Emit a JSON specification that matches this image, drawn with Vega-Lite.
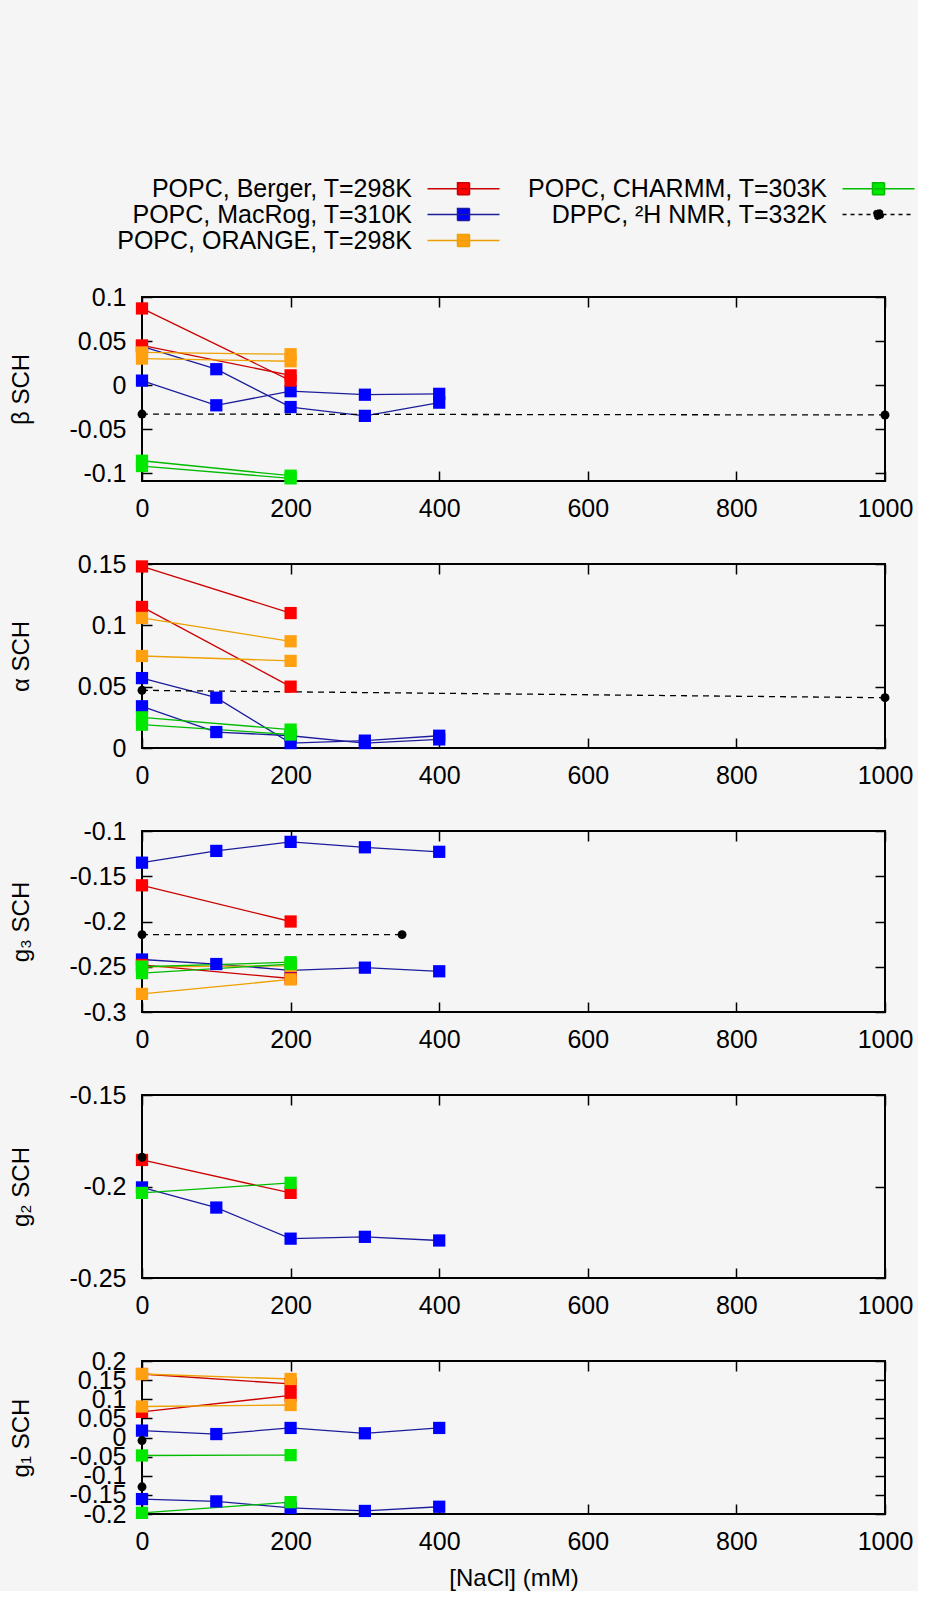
{
  "$schema": "https://vega.github.io/schema/vega-lite/v6.json",
  "background": "#f5f5f5",
  "padding": {"left": 8, "top": 176, "right": 0, "bottom": 0},
  "spacing": 29,
  "datasets": {
    "d": [
      {"p":"b","s":"POPC, MacRog, T=310K","r":1,"x":0,"y":0.044},
      {"p":"b","s":"POPC, MacRog, T=310K","r":1,"x":100,"y":0.018},
      {"p":"b","s":"POPC, MacRog, T=310K","r":1,"x":200,"y":-0.025},
      {"p":"b","s":"POPC, MacRog, T=310K","r":1,"x":300,"y":-0.035},
      {"p":"b","s":"POPC, MacRog, T=310K","r":1,"x":400,"y":-0.02},
      {"p":"b","s":"POPC, MacRog, T=310K","r":2,"x":0,"y":0.005},
      {"p":"b","s":"POPC, MacRog, T=310K","r":2,"x":100,"y":-0.023},
      {"p":"b","s":"POPC, MacRog, T=310K","r":2,"x":200,"y":-0.007},
      {"p":"b","s":"POPC, MacRog, T=310K","r":2,"x":300,"y":-0.011},
      {"p":"b","s":"POPC, MacRog, T=310K","r":2,"x":400,"y":-0.01},
      {"p":"b","s":"POPC, Berger, T=298K","r":1,"x":0,"y":0.087},
      {"p":"b","s":"POPC, Berger, T=298K","r":1,"x":200,"y":0.005},
      {"p":"b","s":"POPC, Berger, T=298K","r":2,"x":0,"y":0.045},
      {"p":"b","s":"POPC, Berger, T=298K","r":2,"x":200,"y":0.011},
      {"p":"b","s":"POPC, ORANGE, T=298K","r":1,"x":0,"y":0.037},
      {"p":"b","s":"POPC, ORANGE, T=298K","r":1,"x":200,"y":0.035},
      {"p":"b","s":"POPC, ORANGE, T=298K","r":2,"x":0,"y":0.030},
      {"p":"b","s":"POPC, ORANGE, T=298K","r":2,"x":200,"y":0.027},
      {"p":"b","s":"POPC, CHARMM, T=303K","r":1,"x":0,"y":-0.086},
      {"p":"b","s":"POPC, CHARMM, T=303K","r":1,"x":200,"y":-0.103},
      {"p":"b","s":"POPC, CHARMM, T=303K","r":2,"x":0,"y":-0.092},
      {"p":"b","s":"POPC, CHARMM, T=303K","r":2,"x":200,"y":-0.106},
      {"p":"b","s":"DPPC, ²H NMR, T=332K","r":1,"x":0,"y":-0.033},
      {"p":"b","s":"DPPC, ²H NMR, T=332K","r":1,"x":1000,"y":-0.034},

      {"p":"a","s":"POPC, MacRog, T=310K","r":1,"x":0,"y":0.057},
      {"p":"a","s":"POPC, MacRog, T=310K","r":1,"x":100,"y":0.041},
      {"p":"a","s":"POPC, MacRog, T=310K","r":1,"x":200,"y":0.004},
      {"p":"a","s":"POPC, MacRog, T=310K","r":1,"x":300,"y":0.006},
      {"p":"a","s":"POPC, MacRog, T=310K","r":1,"x":400,"y":0.010},
      {"p":"a","s":"POPC, MacRog, T=310K","r":2,"x":0,"y":0.034},
      {"p":"a","s":"POPC, MacRog, T=310K","r":2,"x":100,"y":0.013},
      {"p":"a","s":"POPC, MacRog, T=310K","r":2,"x":200,"y":0.010},
      {"p":"a","s":"POPC, MacRog, T=310K","r":2,"x":300,"y":0.004},
      {"p":"a","s":"POPC, MacRog, T=310K","r":2,"x":400,"y":0.007},
      {"p":"a","s":"POPC, Berger, T=298K","r":1,"x":0,"y":0.148},
      {"p":"a","s":"POPC, Berger, T=298K","r":1,"x":200,"y":0.110},
      {"p":"a","s":"POPC, Berger, T=298K","r":2,"x":0,"y":0.115},
      {"p":"a","s":"POPC, Berger, T=298K","r":2,"x":200,"y":0.050},
      {"p":"a","s":"POPC, ORANGE, T=298K","r":1,"x":0,"y":0.106},
      {"p":"a","s":"POPC, ORANGE, T=298K","r":1,"x":200,"y":0.087},
      {"p":"a","s":"POPC, ORANGE, T=298K","r":2,"x":0,"y":0.075},
      {"p":"a","s":"POPC, ORANGE, T=298K","r":2,"x":200,"y":0.071},
      {"p":"a","s":"POPC, CHARMM, T=303K","r":1,"x":0,"y":0.025},
      {"p":"a","s":"POPC, CHARMM, T=303K","r":1,"x":200,"y":0.015},
      {"p":"a","s":"POPC, CHARMM, T=303K","r":2,"x":0,"y":0.019},
      {"p":"a","s":"POPC, CHARMM, T=303K","r":2,"x":200,"y":0.011},
      {"p":"a","s":"DPPC, ²H NMR, T=332K","r":1,"x":0,"y":0.047},
      {"p":"a","s":"DPPC, ²H NMR, T=332K","r":1,"x":1000,"y":0.041},

      {"p":"g3","s":"POPC, MacRog, T=310K","r":1,"x":0,"y":-0.135},
      {"p":"g3","s":"POPC, MacRog, T=310K","r":1,"x":100,"y":-0.122},
      {"p":"g3","s":"POPC, MacRog, T=310K","r":1,"x":200,"y":-0.112},
      {"p":"g3","s":"POPC, MacRog, T=310K","r":1,"x":300,"y":-0.118},
      {"p":"g3","s":"POPC, MacRog, T=310K","r":1,"x":400,"y":-0.123},
      {"p":"g3","s":"POPC, MacRog, T=310K","r":2,"x":0,"y":-0.242},
      {"p":"g3","s":"POPC, MacRog, T=310K","r":2,"x":100,"y":-0.247},
      {"p":"g3","s":"POPC, MacRog, T=310K","r":2,"x":200,"y":-0.254},
      {"p":"g3","s":"POPC, MacRog, T=310K","r":2,"x":300,"y":-0.251},
      {"p":"g3","s":"POPC, MacRog, T=310K","r":2,"x":400,"y":-0.255},
      {"p":"g3","s":"POPC, Berger, T=298K","r":1,"x":0,"y":-0.160},
      {"p":"g3","s":"POPC, Berger, T=298K","r":1,"x":200,"y":-0.200},
      {"p":"g3","s":"POPC, Berger, T=298K","r":2,"x":0,"y":-0.248},
      {"p":"g3","s":"POPC, Berger, T=298K","r":2,"x":200,"y":-0.263},
      {"p":"g3","s":"POPC, ORANGE, T=298K","r":1,"x":0,"y":-0.250},
      {"p":"g3","s":"POPC, ORANGE, T=298K","r":1,"x":200,"y":-0.249},
      {"p":"g3","s":"POPC, ORANGE, T=298K","r":2,"x":0,"y":-0.280},
      {"p":"g3","s":"POPC, ORANGE, T=298K","r":2,"x":200,"y":-0.264},
      {"p":"g3","s":"POPC, CHARMM, T=303K","r":1,"x":0,"y":-0.250},
      {"p":"g3","s":"POPC, CHARMM, T=303K","r":1,"x":200,"y":-0.245},
      {"p":"g3","s":"POPC, CHARMM, T=303K","r":2,"x":0,"y":-0.257},
      {"p":"g3","s":"POPC, CHARMM, T=303K","r":2,"x":200,"y":-0.247},
      {"p":"g3","s":"DPPC, ²H NMR, T=332K","r":1,"x":0,"y":-0.2145},
      {"p":"g3","s":"DPPC, ²H NMR, T=332K","r":1,"x":350,"y":-0.2145},

      {"p":"g2","s":"POPC, MacRog, T=310K","r":1,"x":0,"y":-0.2005},
      {"p":"g2","s":"POPC, MacRog, T=310K","r":1,"x":100,"y":-0.2115},
      {"p":"g2","s":"POPC, MacRog, T=310K","r":1,"x":200,"y":-0.2285},
      {"p":"g2","s":"POPC, MacRog, T=310K","r":1,"x":300,"y":-0.2275},
      {"p":"g2","s":"POPC, MacRog, T=310K","r":1,"x":400,"y":-0.2295},
      {"p":"g2","s":"POPC, Berger, T=298K","r":1,"x":0,"y":-0.1855},
      {"p":"g2","s":"POPC, Berger, T=298K","r":1,"x":200,"y":-0.2035},
      {"p":"g2","s":"POPC, CHARMM, T=303K","r":1,"x":0,"y":-0.2035},
      {"p":"g2","s":"POPC, CHARMM, T=303K","r":1,"x":200,"y":-0.198},
      {"p":"g2","s":"DPPC, ²H NMR, T=332K","r":1,"x":0,"y":-0.184},

      {"p":"g1","s":"POPC, MacRog, T=310K","r":1,"x":0,"y":0.018},
      {"p":"g1","s":"POPC, MacRog, T=310K","r":1,"x":100,"y":0.009},
      {"p":"g1","s":"POPC, MacRog, T=310K","r":1,"x":200,"y":0.025},
      {"p":"g1","s":"POPC, MacRog, T=310K","r":1,"x":300,"y":0.011},
      {"p":"g1","s":"POPC, MacRog, T=310K","r":1,"x":400,"y":0.025},
      {"p":"g1","s":"POPC, MacRog, T=310K","r":2,"x":0,"y":-0.161},
      {"p":"g1","s":"POPC, MacRog, T=310K","r":2,"x":100,"y":-0.167},
      {"p":"g1","s":"POPC, MacRog, T=310K","r":2,"x":200,"y":-0.184},
      {"p":"g1","s":"POPC, MacRog, T=310K","r":2,"x":300,"y":-0.192},
      {"p":"g1","s":"POPC, MacRog, T=310K","r":2,"x":400,"y":-0.181},
      {"p":"g1","s":"POPC, Berger, T=298K","r":1,"x":0,"y":0.166},
      {"p":"g1","s":"POPC, Berger, T=298K","r":1,"x":200,"y":0.140},
      {"p":"g1","s":"POPC, Berger, T=298K","r":2,"x":0,"y":0.067},
      {"p":"g1","s":"POPC, Berger, T=298K","r":2,"x":200,"y":0.110},
      {"p":"g1","s":"POPC, ORANGE, T=298K","r":1,"x":0,"y":0.166},
      {"p":"g1","s":"POPC, ORANGE, T=298K","r":1,"x":200,"y":0.153},
      {"p":"g1","s":"POPC, ORANGE, T=298K","r":2,"x":0,"y":0.081},
      {"p":"g1","s":"POPC, ORANGE, T=298K","r":2,"x":200,"y":0.085},
      {"p":"g1","s":"POPC, CHARMM, T=303K","r":1,"x":0,"y":-0.047},
      {"p":"g1","s":"POPC, CHARMM, T=303K","r":1,"x":200,"y":-0.046},
      {"p":"g1","s":"POPC, CHARMM, T=303K","r":2,"x":0,"y":-0.197},
      {"p":"g1","s":"POPC, CHARMM, T=303K","r":2,"x":200,"y":-0.169},
      {"p":"g1","s":"DPPC, ²H NMR, T=332K","r":1,"x":0,"y":-0.008},
      {"p":"g1","s":"DPPC, ²H NMR, T=332K","r":2,"x":0,"y":-0.129}
    ]
  },
  "data": {"name": "d"},
  "vconcat": [
    {
      "width": 743, "height": 184,
      "transform": [{"filter": "datum.p == 'b'"}],
      "layer": [
        {"transform": [{"filter": "indexof(datum.s, 'DPPC') < 0"}],
         "mark": {"type": "line", "strokeWidth": 1.3},
         "encoding": {
           "x": {"field": "x", "type": "quantitative", "scale": {"domain": [0, 1000], "nice": false}, "axis": {"values": [0,200,400,600,800,1000], "format": "d", "title": null}},
           "y": {"field": "y", "type": "quantitative", "scale": {"domain": [-0.109, 0.1], "nice": false, "zero": false}, "axis": {"values": [-0.1,-0.05,0,0.05,0.1], "format": ".2~f", "title": "β  SCH", "titleX": -109}},
           "color": {"field": "s", "type": "nominal", "scale": {"domain": ["POPC, MacRog, T=310K","POPC, Berger, T=298K","POPC, ORANGE, T=298K","POPC, CHARMM, T=303K","DPPC, ²H NMR, T=332K"], "range": ["#1c1c9c","#cc0000","#eea000","#00bb00","#000000"]}, "legend": null},
           "detail": {"field": "r", "type": "nominal"}
         }},
        {"transform": [{"filter": "indexof(datum.s, 'DPPC') >= 0"}],
         "mark": {"type": "line", "strokeWidth": 1.3, "strokeDash": [6, 5], "color": "black"},
         "encoding": {
           "x": {"field": "x", "type": "quantitative", "axis": null},
           "y": {"field": "y", "type": "quantitative", "axis": null},
           "detail": {"field": "r", "type": "nominal"}
         }},
        {"transform": [{"filter": "indexof(datum.s, 'DPPC') < 0"}],
         "mark": {"type": "point", "shape": "square", "filled": true, "size": 150, "opacity": 1},
         "encoding": {
           "x": {"field": "x", "type": "quantitative", "axis": {"orient": "top", "values": [0,200,400,600,800,1000], "labels": false, "title": null}},
           "y": {"field": "y", "type": "quantitative", "axis": {"orient": "right", "values": [-0.1,-0.05,0,0.05,0.1], "labels": false, "title": null}},
           "fill": {"field": "s", "type": "nominal", "scale": {"domain": ["POPC, Berger, T=298K","POPC, MacRog, T=310K","POPC, ORANGE, T=298K","POPC, CHARMM, T=303K","DPPC, ²H NMR, T=332K"], "range": ["#ff0000","#0000ff","#ffa010","#00e800","#000000"]}}
         }},
        {"transform": [{"filter": "indexof(datum.s, 'DPPC') >= 0"}],
         "mark": {"type": "point", "shape": "circle", "filled": true, "size": 80, "opacity": 1, "color": "black"},
         "encoding": {
           "x": {"field": "x", "type": "quantitative", "axis": null},
           "y": {"field": "y", "type": "quantitative", "axis": null}
         }},
        {"transform": [{"filter": "false"}],
         "mark": {"type": "point", "filled": true, "strokeWidth": 1.5},
         "encoding": {
           "x": {"field": "x", "type": "quantitative", "axis": null},
           "y": {"field": "y", "type": "quantitative", "axis": null},
           "fill": {"field": "s", "type": "nominal"},
           "stroke": {"field": "s", "type": "nominal", "scale": {"domain": ["POPC, Berger, T=298K","POPC, MacRog, T=310K","POPC, ORANGE, T=298K","POPC, CHARMM, T=303K","DPPC, ²H NMR, T=332K"], "range": ["#cc0000","#1c1c9c","#eea000","#00bb00","#000000"]}},
           "shape": {"field": "s", "type": "nominal", "scale": {"domain": ["POPC, Berger, T=298K","POPC, MacRog, T=310K","POPC, ORANGE, T=298K","POPC, CHARMM, T=303K","DPPC, ²H NMR, T=332K"], "range": ["M-3.6,0H3.6M-0.6,-0.6H0.6V0.6H-0.6Z","M-3.6,0H3.6M-0.6,-0.6H0.6V0.6H-0.6Z","M-3.6,0H3.6M-0.6,-0.6H0.6V0.6H-0.6Z","M-3.6,0H3.6M-0.6,-0.6H0.6V0.6H-0.6Z","M-3.6,0H3.6M0.5,0A0.5,0.5,0,1,1,-0.5,0A0.5,0.5,0,1,1,0.5,0Z"]}},
           "strokeDash": {"field": "s", "type": "nominal", "scale": {"domain": ["POPC, Berger, T=298K","POPC, MacRog, T=310K","POPC, ORANGE, T=298K","POPC, CHARMM, T=303K","DPPC, ²H NMR, T=332K"], "range": [[1,0],[1,0],[1,0],[1,0],[4,4]]}}
         }}
      ],
      "resolve": {"axis": {"x": "independent", "y": "independent"}}
    },
    {
      "width": 743, "height": 184,
      "transform": [{"filter": "datum.p == 'a'"}],
      "layer": [
        {"transform": [{"filter": "indexof(datum.s, 'DPPC') < 0"}],
         "mark": {"type": "line", "strokeWidth": 1.3},
         "encoding": {
           "x": {"field": "x", "type": "quantitative", "scale": {"domain": [0, 1000], "nice": false}, "axis": {"values": [0,200,400,600,800,1000], "format": "d", "title": null}},
           "y": {"field": "y", "type": "quantitative", "scale": {"domain": [0, 0.15], "nice": false, "zero": false}, "axis": {"values": [0,0.05,0.1,0.15], "format": ".2~f", "title": "α  SCH", "titleX": -109}},
           "color": {"field": "s", "type": "nominal", "legend": null},
           "detail": {"field": "r", "type": "nominal"}
         }},
        {"transform": [{"filter": "indexof(datum.s, 'DPPC') >= 0"}],
         "mark": {"type": "line", "strokeWidth": 1.3, "strokeDash": [6, 5], "color": "black"},
         "encoding": {
           "x": {"field": "x", "type": "quantitative", "axis": null},
           "y": {"field": "y", "type": "quantitative", "axis": null},
           "detail": {"field": "r", "type": "nominal"}
         }},
        {"transform": [{"filter": "indexof(datum.s, 'DPPC') < 0"}],
         "mark": {"type": "point", "shape": "square", "filled": true, "size": 150, "opacity": 1},
         "encoding": {
           "x": {"field": "x", "type": "quantitative", "axis": {"orient": "top", "values": [0,200,400,600,800,1000], "labels": false, "title": null}},
           "y": {"field": "y", "type": "quantitative", "axis": {"orient": "right", "values": [0,0.05,0.1,0.15], "labels": false, "title": null}},
           "fill": {"field": "s", "type": "nominal"}
         }},
        {"transform": [{"filter": "indexof(datum.s, 'DPPC') >= 0"}],
         "mark": {"type": "point", "shape": "circle", "filled": true, "size": 80, "opacity": 1, "color": "black"},
         "encoding": {
           "x": {"field": "x", "type": "quantitative", "axis": null},
           "y": {"field": "y", "type": "quantitative", "axis": null}
         }}
      ],
      "resolve": {"axis": {"x": "independent", "y": "independent"}}
    },
    {
      "width": 743, "height": 181,
      "transform": [{"filter": "datum.p == 'g3'"}],
      "layer": [
        {"transform": [{"filter": "indexof(datum.s, 'DPPC') < 0"}],
         "mark": {"type": "line", "strokeWidth": 1.3},
         "encoding": {
           "x": {"field": "x", "type": "quantitative", "scale": {"domain": [0, 1000], "nice": false}, "axis": {"values": [0,200,400,600,800,1000], "format": "d", "title": null}},
           "y": {"field": "y", "type": "quantitative", "scale": {"domain": [-0.3, -0.1], "nice": false, "zero": false}, "axis": {"values": [-0.3,-0.25,-0.2,-0.15,-0.1], "format": ".2~f", "title": "g₃  SCH", "titleX": -109}},
           "color": {"field": "s", "type": "nominal", "legend": null},
           "detail": {"field": "r", "type": "nominal"}
         }},
        {"transform": [{"filter": "indexof(datum.s, 'DPPC') >= 0"}],
         "mark": {"type": "line", "strokeWidth": 1.3, "strokeDash": [6, 5], "color": "black"},
         "encoding": {
           "x": {"field": "x", "type": "quantitative", "axis": null},
           "y": {"field": "y", "type": "quantitative", "axis": null},
           "detail": {"field": "r", "type": "nominal"}
         }},
        {"transform": [{"filter": "indexof(datum.s, 'DPPC') < 0"}],
         "mark": {"type": "point", "shape": "square", "filled": true, "size": 150, "opacity": 1},
         "encoding": {
           "x": {"field": "x", "type": "quantitative", "axis": {"orient": "top", "values": [0,200,400,600,800,1000], "labels": false, "title": null}},
           "y": {"field": "y", "type": "quantitative", "axis": {"orient": "right", "values": [-0.3,-0.25,-0.2,-0.15,-0.1], "labels": false, "title": null}},
           "fill": {"field": "s", "type": "nominal"}
         }},
        {"transform": [{"filter": "indexof(datum.s, 'DPPC') >= 0"}],
         "mark": {"type": "point", "shape": "circle", "filled": true, "size": 80, "opacity": 1, "color": "black"},
         "encoding": {
           "x": {"field": "x", "type": "quantitative", "axis": null},
           "y": {"field": "y", "type": "quantitative", "axis": null}
         }}
      ],
      "resolve": {"axis": {"x": "independent", "y": "independent"}}
    },
    {
      "width": 743, "height": 183,
      "transform": [{"filter": "datum.p == 'g2'"}],
      "layer": [
        {"transform": [{"filter": "indexof(datum.s, 'DPPC') < 0"}],
         "mark": {"type": "line", "strokeWidth": 1.3},
         "encoding": {
           "x": {"field": "x", "type": "quantitative", "scale": {"domain": [0, 1000], "nice": false}, "axis": {"values": [0,200,400,600,800,1000], "format": "d", "title": null}},
           "y": {"field": "y", "type": "quantitative", "scale": {"domain": [-0.25, -0.15], "nice": false, "zero": false}, "axis": {"values": [-0.25,-0.2,-0.15], "format": ".2~f", "title": "g₂  SCH", "titleX": -109}},
           "color": {"field": "s", "type": "nominal", "legend": null},
           "detail": {"field": "r", "type": "nominal"}
         }},
        {"transform": [{"filter": "indexof(datum.s, 'DPPC') >= 0"}],
         "mark": {"type": "line", "strokeWidth": 1.3, "strokeDash": [6, 5], "color": "black"},
         "encoding": {
           "x": {"field": "x", "type": "quantitative", "axis": null},
           "y": {"field": "y", "type": "quantitative", "axis": null},
           "detail": {"field": "r", "type": "nominal"}
         }},
        {"transform": [{"filter": "indexof(datum.s, 'DPPC') < 0"}],
         "mark": {"type": "point", "shape": "square", "filled": true, "size": 150, "opacity": 1},
         "encoding": {
           "x": {"field": "x", "type": "quantitative", "axis": {"orient": "top", "values": [0,200,400,600,800,1000], "labels": false, "title": null}},
           "y": {"field": "y", "type": "quantitative", "axis": {"orient": "right", "values": [-0.25,-0.2,-0.15], "labels": false, "title": null}},
           "fill": {"field": "s", "type": "nominal"}
         }},
        {"transform": [{"filter": "indexof(datum.s, 'DPPC') >= 0"}],
         "mark": {"type": "point", "shape": "circle", "filled": true, "size": 80, "opacity": 1, "color": "black"},
         "encoding": {
           "x": {"field": "x", "type": "quantitative", "axis": null},
           "y": {"field": "y", "type": "quantitative", "axis": null}
         }}
      ],
      "resolve": {"axis": {"x": "independent", "y": "independent"}}
    },
    {
      "width": 743, "height": 153,
      "transform": [{"filter": "datum.p == 'g1'"}],
      "layer": [
        {"transform": [{"filter": "indexof(datum.s, 'DPPC') < 0"}],
         "mark": {"type": "line", "strokeWidth": 1.3},
         "encoding": {
           "x": {"field": "x", "type": "quantitative", "scale": {"domain": [0, 1000], "nice": false}, "axis": {"values": [0,200,400,600,800,1000], "format": "d", "title": "[NaCl] (mM)", "titlePadding": 12}},
           "y": {"field": "y", "type": "quantitative", "scale": {"domain": [-0.2, 0.2], "nice": false, "zero": false}, "axis": {"values": [-0.2,-0.15,-0.1,-0.05,0,0.05,0.1,0.15,0.2], "format": ".2~f", "title": "g₁  SCH", "titleX": -109}},
           "color": {"field": "s", "type": "nominal", "legend": null},
           "detail": {"field": "r", "type": "nominal"}
         }},
        {"transform": [{"filter": "indexof(datum.s, 'DPPC') >= 0"}],
         "mark": {"type": "line", "strokeWidth": 1.3, "strokeDash": [6, 5], "color": "black"},
         "encoding": {
           "x": {"field": "x", "type": "quantitative", "axis": null},
           "y": {"field": "y", "type": "quantitative", "axis": null},
           "detail": {"field": "r", "type": "nominal"}
         }},
        {"transform": [{"filter": "indexof(datum.s, 'DPPC') < 0"}],
         "mark": {"type": "point", "shape": "square", "filled": true, "size": 150, "opacity": 1},
         "encoding": {
           "x": {"field": "x", "type": "quantitative", "axis": {"orient": "top", "values": [0,200,400,600,800,1000], "labels": false, "title": null}},
           "y": {"field": "y", "type": "quantitative", "axis": {"orient": "right", "values": [-0.2,-0.15,-0.1,-0.05,0,0.05,0.1,0.15,0.2], "labels": false, "title": null}},
           "fill": {"field": "s", "type": "nominal"}
         }},
        {"transform": [{"filter": "indexof(datum.s, 'DPPC') >= 0"}],
         "mark": {"type": "point", "shape": "circle", "filled": true, "size": 80, "opacity": 1, "color": "black"},
         "encoding": {
           "x": {"field": "x", "type": "quantitative", "axis": null},
           "y": {"field": "y", "type": "quantitative", "axis": null}
         }}
      ],
      "resolve": {"axis": {"x": "independent", "y": "independent"}}
    }
  ],
  "config": {
    "locale": {"number": {"decimal": ".", "thousands": ",", "grouping": [3], "currency": ["$", ""], "minus": "-"}},
    "font": "Liberation Sans",
    "view": {"stroke": "black", "strokeWidth": 2},
    "axis": {
      "labelFont": "Liberation Sans", "labelFontSize": 25, "labelColor": "black",
      "titleFont": "Liberation Sans", "titleFontSize": 24, "titleFontWeight": "normal", "titleColor": "black",
      "domain": false, "grid": false, "tickColor": "black", "tickWidth": 1.5, "tickSize": -10,
      "labelFlush": false, "labelOverlap": false, "labelBound": false, "labelPadding": 26
    },
    "axisX": {"labelPadding": 25},
    "legend": {
      "orient": "none", "legendX": 309, "legendY": -121, "columns": 2, "title": null,
      "labelFont": "Liberation Sans", "labelFontSize": 25, "labelColor": "black", "labelLimit": 500,
      "labelAlign": "right", "labelOffset": -64, "symbolOpacity": 1,
      "symbolSize": 400, "symbolStrokeWidth": 1.5, "rowPadding": 0, "columnPadding": 24
    }
  }
}
